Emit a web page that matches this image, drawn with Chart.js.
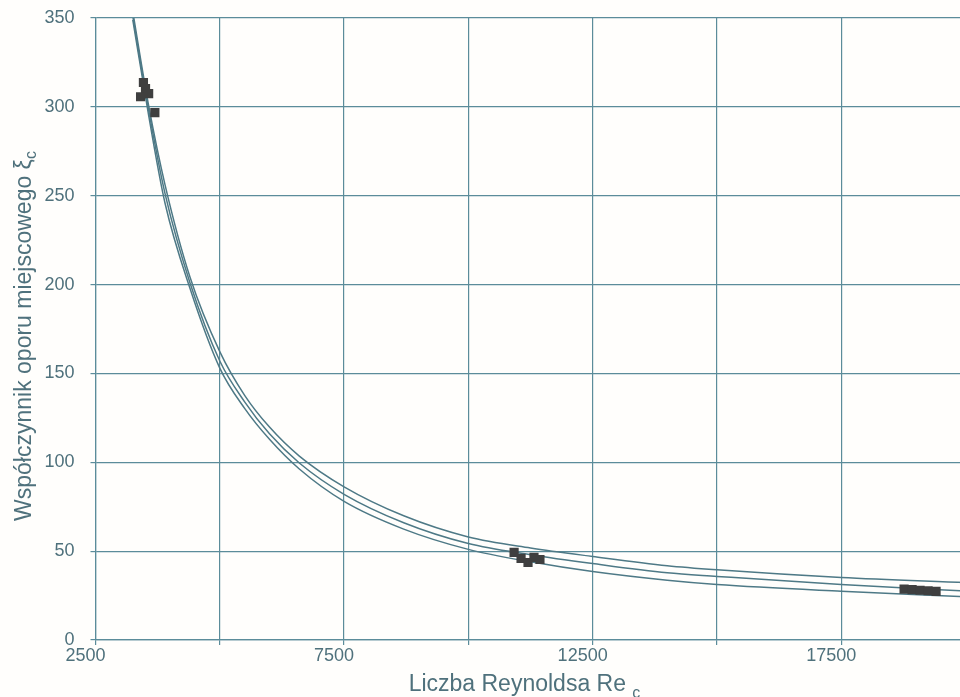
<!DOCTYPE html>
<html lang="pl">
<head>
<meta charset="utf-8">
<title>Współczynnik oporu miejscowego</title>
<script src="https://cdn.jsdelivr.net/npm/chart.js@4.4.1/dist/chart.umd.min.js"></script>
<style>
  html, body { margin: 0; padding: 0; background: #fffefc; overflow: hidden; }
  #wrap { width: 972px; height: 697px; }
</style>
</head>
<body>
<div id="wrap"><canvas id="chart" width="972" height="697"></canvas></div>
<script>
const reynolds = [3250, 3570, 3900, 4400, 5000, 5500, 6000, 6600, 7500, 8700, 10000, 11250, 12500, 14000, 15000, 17500, 20000];
const xiUpper  = [353.5, 300.5, 256.0, 204.3, 162.3, 137.7, 119.8, 103.5, 86.2, 69.9, 58.0, 51.8, 47.0, 41.8, 39.5, 35.2, 32.3];
const xiMid    = [351.0, 298.0, 251.0, 201.0, 157.0, 134.0, 116.0, 99.6, 82.0, 66.0, 54.3, 48.0, 43.0, 37.8, 35.8, 31.2, 27.6];
const xiLower  = [349.0, 295.0, 245.6, 197.9, 153.0, 130.3, 112.9, 96.2, 78.0, 62.4, 51.0, 44.0, 38.5, 33.6, 31.2, 27.4, 24.3];

// punkty pomiarowe
const measRe = [3464, 3506, 3407, 3569, 3694, 10920, 11060, 11200, 11320, 11440, 18765, 18926, 19086, 19247, 19408];
const measXi = [313.7, 310.3, 305.7, 307.4, 296.8, 49.3, 45.9, 43.6, 46.5, 45.3, 28.6, 28.3, 28.0, 27.7, 27.4];

// opisane wartości osi X
const xTickLabels = [2500, 7500, 12500, 17500];

const TEXT = '#4f717c';
const GRID = '#5b8c9a';
const CURVE = '#4e7986';
const FONT = '"Liberation Sans", Arial, sans-serif';

function pts(xs, ys) {
    return xs.map((x, i) => ({ x: x, y: ys[i] }));
}

function curve(ys) {
    return {
        data: pts(reynolds, ys),
        showLine: true,
        borderColor: CURVE,
        borderWidth: 1.5,
        pointRadius: 0,
        cubicInterpolationMode: 'monotone',
        fill: false
    };
}

// opisy osi z indeksem dolnym "c"
const axisTitles = {
    id: 'axisTitles',
    afterDraw(chart) {
        const ctx = chart.ctx;
        const area = chart.chartArea;
        const mainFont = '23px ' + FONT;
        const subFont = '16px ' + FONT;
        ctx.save();
        ctx.fillStyle = TEXT;
        ctx.textBaseline = 'alphabetic';
        ctx.textAlign = 'left';

        // oś X
        const xText = 'Liczba Reynoldsa Re ';
        ctx.font = mainFont;
        const wx = ctx.measureText(xText).width;
        ctx.font = subFont;
        const wxs = ctx.measureText('c').width;
        let x0 = (area.left + area.right) / 2 - 6 - (wx + wxs) / 2;
        ctx.font = mainFont;
        ctx.fillText(xText, x0, 691);
        ctx.font = subFont;
        ctx.fillText('c', x0 + wx, 698);

        // oś Y
        const yText = 'Współczynnik oporu miejscowego ξ';
        ctx.font = mainFont;
        const wy = ctx.measureText(yText).width;
        ctx.font = subFont;
        const wys = ctx.measureText('c').width;
        ctx.translate(31, 336);
        ctx.rotate(-Math.PI / 2);
        const y0 = -(wy + wys) / 2;
        ctx.font = mainFont;
        ctx.fillText(yText, y0, 0);
        ctx.font = subFont;
        ctx.fillText('c', y0 + wy, 5);
        ctx.restore();
    }
};

new Chart(document.getElementById('chart'), {
    type: 'scatter',
    data: {
        datasets: [
            {
                data: pts(measRe, measXi),
                pointStyle: 'rect',
                pointRadius: 6.5,
                backgroundColor: '#3f3f3f',
                borderColor: '#3f3f3f',
                borderWidth: 0,
                showLine: false
            },
            curve(xiUpper),
            curve(xiMid),
            curve(xiLower)
        ]
    },
    options: {
        responsive: false,
        animation: false,
        layout: { padding: { top: 18, right: 6, bottom: 0, left: 0 } },
        plugins: {
            legend: { display: false },
            tooltip: { enabled: false }
        },
        scales: {
            x: {
                type: 'linear',
                min: 2500,
                max: 20000,
                afterFit(scale) { scale.height = 57; },
                grid: { color: GRID, lineWidth: 1.2, tickLength: 5 },
                border: { color: GRID, width: 1.2 },
                ticks: {
                    stepSize: 2500,
                    autoSkip: false,
                    maxRotation: 0,
                    padding: 0,
                    labelOffset: -10,
                    color: TEXT,
                    font: { family: FONT, size: 18 },
                    callback: (v) => xTickLabels.includes(v) ? String(v) : ''
                }
            },
            y: {
                min: 0,
                max: 350,
                afterFit(scale) {
                    scale.width = 95.5;
                    // etykieta 350 nie wymaga dodatkowego marginesu u góry
                    scale.paddingTop = 0;
                    scale.paddingBottom = 0;
                },
                grid: { color: GRID, lineWidth: 1.2, tickLength: 5 },
                border: { color: GRID, width: 1.2 },
                ticks: {
                    stepSize: 50,
                    padding: 16,
                    color: TEXT,
                    font: { family: FONT, size: 18 }
                }
            }
        }
    },
    plugins: [axisTitles]
});
</script>
</body>
</html>
